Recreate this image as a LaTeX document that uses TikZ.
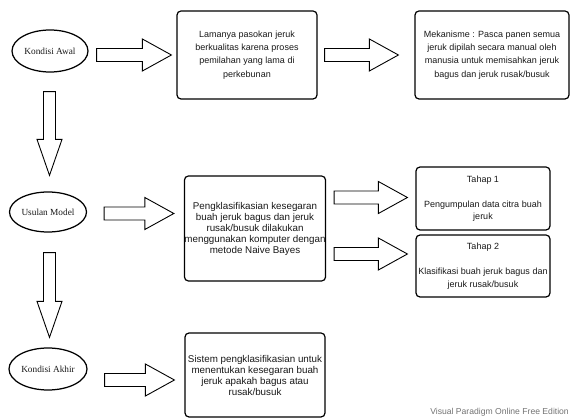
\documentclass[tikz,border=0pt]{standalone}
\usepackage{fontspec}
\setmainfont{Liberation Sans}
\newfontfamily\serifface{Liberation Serif}
\usetikzlibrary{calc,shapes.geometric}
\begin{document}
\begin{tikzpicture}[x=1pt,y=-1pt,
  ell/.style={ellipse,draw,line width=1.25pt,inner sep=0pt,text=black!90,
    font=\serifface\fontsize{9.3}{10}\selectfont},
  box/.style={draw,line width=1.2pt,rounded corners=4pt,align=center,inner sep=0pt,
    text=black!90,font=\fontsize{9}{13.3}\selectfont},
  bigtext/.style={font=\fontsize{9.8}{11}\selectfont},
  tahap/.style={font=\fontsize{9}{12.5}\selectfont},
  harrow/.style={draw,line width=0.9pt,to path={
    let \p1=(\tikztostart),\p2=(\tikztotarget) in
    (\x1,\y2+6.5pt) -- (\x2-29pt,\y2+6.5pt) -- (\x2-29pt,\y2+16pt) -- (\x2,\y2)
    -- (\x2-29pt,\y2-16pt) -- (\x2-29pt,\y2-6.5pt) -- (\x1,\y2-6.5pt) -- cycle}},
  varrow/.style={draw,line width=0.9pt,to path={
    let \p1=(\tikztostart),\p2=(\tikztotarget) in
    (\x2-6pt,\y1) -- (\x2-6pt,\y2+36pt) -- (\x2-12.5pt,\y2+36pt) -- (\x2,\y2)
    -- (\x2+12.5pt,\y2+36pt) -- (\x2+6pt,\y2+36pt) -- (\x2+6pt,\y1) -- cycle}}
]
\useasboundingbox[fill=white] (0,0) rectangle (571,419);

% ellipses
\node[ell,minimum width=76pt,minimum height=42pt] (e1) at (50,51) {Kondisi Awal};
\node[ell,minimum width=77pt,minimum height=40pt] (e2) at (48,212) {Usulan Model};
\node[ell,minimum width=78pt,minimum height=42pt] (e3) at (48,369) {Kondisi Akhir};

% boxes
\node[box,minimum width=140pt,minimum height=88pt] (b1) at (247,55)
  {Lamanya pasokan jeruk\\berkualitas karena proses\\pemilahan yang lama di\\perkebunan};
\node[box,minimum width=154pt,minimum height=88pt] (b2) at (492,55)
  {Mekanisme : Pasca panen semua\\jeruk dipilah secara manual oleh\\manusia untuk memisahkan jeruk\\bagus dan jeruk rusak/busuk};
\node[box,bigtext,minimum width=140pt,minimum height=105pt] (b3) at (255,228.5)
  {Pengklasifikasian kesegaran\\buah jeruk bagus dan jeruk\\rusak/busuk dilakukan\\menggunakan komputer dengan\\metode Naive Bayes};
\node[box,tahap,minimum width=134pt,minimum height=63pt] (t1) at (483,198.5)
  {Tahap 1\\[12.5pt]Pengumpulan data citra buah\\jeruk};
\node[box,tahap,minimum width=134pt,minimum height=62pt] (t2) at (483,266)
  {Tahap 2\\[12.5pt]Klasifikasi buah jeruk bagus dan\\jeruk rusak/busuk};
\node[box,bigtext,minimum width=140pt,minimum height=84pt] (b4) at (255,375)
  {Sistem pengklasifikasian untuk\\menentukan kesegaran buah\\jeruk apakah bagus atau\\rusak/busuk};

% watermark
\node[anchor=east,inner sep=0pt,text=black!55,font=\fontsize{8.6}{10}\selectfont] (wm)
  at (569,412) {Visual Paradigm Online Free Edition};

% block arrows
\draw[harrow] ($(e1.east)+(8,0)$) to ($(b1.west)+(-5,0)$);
\draw[harrow] ($(b1.east)+(7,0)$) to ($(b2.west)+(-16,0)$);
\draw[harrow] ($(e2.east)+(17,0)$) to ($(b3.west)+(-10,-15)$);
\draw[harrow] ($(b3.east)+(8,0)$) to ($(t1.west)+(-8,-1)$);
\draw[harrow] ($(b3.east)+(8,0)$) to ($(t2.west)+(-8,-12)$);
\draw[harrow] ($(e3.east)+(17,0)$) to ($(b4.west)+(-10,5)$);
\draw[varrow] ($(e1.south)+(0,19)$) to ($(e2.north)+(1.5,-16)$);
\draw[varrow] ($(e2.south)+(0,20)$) to ($(e3.north)+(1.5,-10)$);
\end{tikzpicture}
\end{document}
